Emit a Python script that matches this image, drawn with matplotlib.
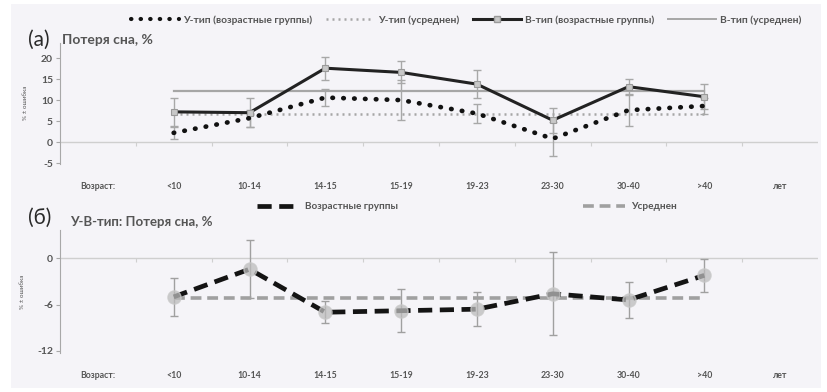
import matplotlib
matplotlib.use("Agg")
import matplotlib.pyplot as plt
from matplotlib.patches import Rectangle
from matplotlib.lines import Line2D

plt.rcParams['font.family'] = ['Lato', 'DejaVu Sans']

# категории по оси X (первая и последняя без данных)
categories = ['Возраст:', '<10', '10-14', '14-15', '15-19', '19-23', '23-30', '30-40', '>40', 'лет']
groups = ['<10', '10-14', '14-15', '15-19', '19-23', '23-30', '30-40', '>40']

# (а) потеря сна, %
u_vals = [2.2, 5.7, 10.6, 10.0, 6.8, 0.8, 7.6, 8.6]
u_err = [1.5, 2.0, 2.1, 4.7, 2.2, 4.0, 3.8, 1.8]
u_mean = 6.8
b_vals = [7.2, 7.0, 17.6, 16.6, 13.8, 5.2, 13.2, 10.8]
b_err = [3.4, 3.5, 2.7, 2.6, 3.3, 3.0, 1.9, 3.0]
b_mean = 12.2

# (б) разница У-В
d_vals = [-5.0, -1.4, -7.0, -6.8, -6.6, -4.6, -5.4, -2.2]
d_err = [2.5, 3.8, 1.4, 2.8, 2.2, 5.4, 2.4, 2.1]
d_mean = -5.1

fig = plt.figure(figsize=(8.27, 3.92), dpi=100)
fig.patches.append(Rectangle((11 / 827, 4 / 392), 810 / 827, 384 / 392,
                             transform=fig.transFigure, facecolor='#f5f4f8',
                             edgecolor='none', zorder=-10))

gx = [categories.index(g) for g in groups]
txt = '#555555'
grey = '#a8a8a8'


def style_axes(ax, ylim, yticks):
    ax.set_facecolor('none')
    ax.set_xlim(-0.5, len(categories) - 0.5)
    ax.set_ylim(*ylim)
    ax.set_yticks(yticks)
    ax.set_yticklabels([str(t) for t in yticks], fontsize=7.5, color=txt, fontweight='bold')
    ax.set_xticks(range(len(categories)))
    ax.set_xticklabels(categories, fontsize=6.3, color=txt, fontweight='bold')
    ax.tick_params(axis='x', length=0, pad=13)
    ax.tick_params(axis='y', length=3, color=grey, width=0.8, pad=2)
    for s in ['top', 'right', 'bottom']:
        ax.spines[s].set_visible(False)
    ax.spines['left'].set_color(grey)
    ax.spines['left'].set_linewidth(0.8)
    ax.axhline(0, color='#cfcfcf', lw=1, zorder=0)
    bounds = [i + 0.5 for i in range(len(categories) - 1)]
    ax.plot(bounds, [0] * len(bounds), ls='none', marker=3, ms=3,
            mec='#cfcfcf', mew=0.8, zorder=0)
    ax.set_ylabel('% ± ошибка', fontsize=4.5, color=txt, labelpad=9)


# --- (а) ---
ax1 = fig.add_axes([60 / 827, 1 - 163.5 / 392, 758 / 827, 120.5 / 392])
style_axes(ax1, (-5.1, 23.6), [-5, 0, 5, 10, 15, 20])

ax1.errorbar(gx, b_vals, yerr=b_err, fmt='none', ecolor=grey, elinewidth=1,
             capsize=3, capthick=1, zorder=2)
ax1.errorbar(gx, u_vals, yerr=u_err, fmt='none', ecolor=grey, elinewidth=1,
             capsize=3, capthick=1, zorder=2)
ax1.plot([gx[0], gx[-1]], [b_mean, b_mean], color='#a6a6a6', lw=1.6, zorder=3)
ax1.plot([gx[0], gx[-1]], [u_mean, u_mean], color='#a6a6a6', lw=1.8,
         ls=(0, (0.8, 1.6)), zorder=3)
ax1.plot(gx, b_vals, color='#222222', lw=2.2, marker='s', ms=5, mfc='#c8c8c8',
         mec='#9a9a9a', mew=0.8, zorder=4)
ax1.plot(gx, u_vals, color='#111111', lw=3.4, ls=(0, (0.1, 2.2)),
         dash_capstyle='round', zorder=4)

fig.text(28 / 827, 1 - 40 / 392, '(а)', fontsize=15, color='#2a2a2a', va='center')
fig.text(62 / 827, 1 - 40 / 392, 'Потеря сна, %', fontsize=10, color='#555555',
         fontweight='bold', va='center')

h1 = [Line2D([], [], color='#111111', lw=3, ls=(0, (0.1, 2.2)), dash_capstyle='round'),
      Line2D([], [], color='#a6a6a6', lw=1.8, ls=(0, (0.8, 1.6))),
      Line2D([], [], color='#222222', lw=2.2, marker='s', ms=5, mfc='#c8c8c8', mec='#9a9a9a'),
      Line2D([], [], color='#a6a6a6', lw=1.4)]
l1 = ['У-тип (возрастные группы)', 'У-тип (усреднен)',
      'В-тип (возрастные группы)', 'В-тип (усреднен)']
fig.legend(h1, l1, ncol=4, loc='center', bbox_to_anchor=(466 / 827, 1 - 20 / 392),
           frameon=False, labelcolor=txt, handlelength=4.7,
           columnspacing=1.3, handletextpad=0.4, prop={'weight': 'bold', 'size': 7.4})

# --- (б) ---
ax2 = fig.add_axes([60 / 827, 1 - 353 / 392, 758 / 827, 123 / 392])
style_axes(ax2, (-12.3, 3.7), [-12, -6, 0])

ax2.errorbar(gx, d_vals, yerr=d_err, fmt='none', ecolor='#a0a0a0', elinewidth=1,
             capsize=3, capthick=1, zorder=2)
ax2.plot([gx[0], gx[-1]], [d_mean, d_mean], color='#a0a0a0', lw=2.6,
         ls=(0, (3, 1.6)), zorder=3)
ax2.plot(gx, d_vals, color='#141414', lw=3.4, ls=(0, (3, 1.6)), zorder=4)
ax2.plot(gx, d_vals, ls='none', marker='o', ms=9.5, mfc='#bcbcbc', mec='#c8c8c8',
         alpha=0.75, zorder=5)

fig.text(28 / 827, 1 - 218 / 392, '(б)', fontsize=15, color='#2a2a2a', va='center')
fig.text(70 / 827, 1 - 222 / 392, 'У-В-тип: Потеря сна, %', fontsize=9.5,
         color='#555555', fontweight='bold', va='center')

h2 = [Line2D([], [], color='#141414', lw=3.4, ls=(0, (3, 1.6))),
      Line2D([], [], color='#a0a0a0', lw=2.6, ls=(0, (3, 1.6)))]
l2 = ['Возрастные группы', 'Усреднен']
fig.legend(h2, l2, ncol=2, loc='center', bbox_to_anchor=(467 / 827, 1 - 207 / 392),
           frameon=False, labelcolor=txt, handlelength=4.2,
           columnspacing=18.5, handletextpad=0.6, prop={'weight': 'bold', 'size': 7.2})

fig.savefig('out.png', dpi=100)
